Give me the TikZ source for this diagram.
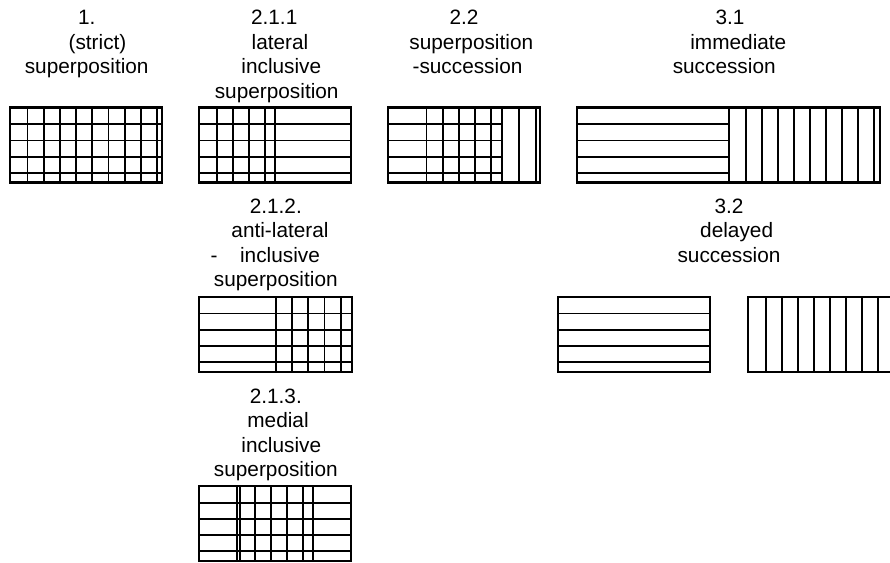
\documentclass[tikz,border=0pt]{standalone}
\usepackage{fontspec}
\setmainfont{Liberation Sans}

\begin{document}
\begin{tikzpicture}[x=.75pt,y=-.75pt,
  lbl/.style={anchor=north,inner sep=0pt,align=center,font=\fontsize{15.6}{18.4}\selectfont},
  rule/.style={line width=1.45pt},
  frame/.style={line width=1.6pt}]
\clip (0,0) rectangle (890,562);

% labels
\node[lbl] (lbl1) at (86.7,10.1) {1.\\ \hspace*{16.2pt}(strict)\\ superposition};
\node[lbl] (lbl211) at (276.7,10.1) {\hspace*{-3.75pt}2.1.1\\ \hspace*{5pt}lateral\\ \hspace*{6.9pt}inclusive\\ superposition};
\node[lbl] (lbl22) at (471.3,10.1) {\hspace*{-11pt}2.2\\ superposition\\ \hspace*{-5.7pt}-succession};
\node[lbl] (lbl31) at (728,10.1) {\hspace*{3pt}3.1\\ \hspace*{15.5pt}immediate\\ \hspace*{-5.7pt}succession};
\node[lbl] (lbl212) at (275.8,198.6) {2.1.2.\\ \hspace*{6.3pt}anti-lateral\\ \hspace*{-15.9pt}-\hspace*{17pt}inclusive\\ superposition};
\node[lbl] (lbl32) at (729,198.6) {3.2\\ \hspace*{11.5pt}delayed\\ succession};
\node[lbl] (lbl213) at (275.8,388.4) {2.1.3.\\ \hspace*{3.3pt}medial\\ \hspace*{8.2pt}inclusive\\ superposition};

% 1. strict superposition
\begin{scope}[shift={(10,107.5)}]
\foreach \y in {16.8,33,49.2,65.4} \draw[rule] (0,\y) -- (152,\y);
\foreach \k in {0,...,8} \draw[rule] (17.5+16.2*\k,0) -- (17.5+16.2*\k,75);
\draw[frame] (0,0) rectangle (152,75);
\end{scope}

% 2.1.1 lateral
\begin{scope}[shift={(199.3,107.5)}]
\foreach \y in {16.8,33,49.2,65.4} \draw[rule] (0,\y) -- (152,\y);
\foreach \k in {0,...,3} \draw[rule] (17.5+16.2*\k,0) -- (17.5+16.2*\k,75);
\draw[rule] (76,0) -- (76,75);
\draw[frame] (0,0) rectangle (152,75);
\end{scope}

% 2.2 superposition-succession
\begin{scope}[shift={(388.3,107.5)}]
\foreach \y in {16.8,33,49.2,65.4} \draw[rule] (0,\y) -- (114,\y);
\foreach \x in {38.2,54.4,70.6,86.8,103,114,130.7,147.3} \draw[rule] (\x,0) -- (\x,75);
\draw[frame] (0,0) rectangle (152,75);
\end{scope}

% 3.1 immediate succession
\begin{scope}[shift={(577.3,107.5)}]
\foreach \y in {16.8,33,49.2,65.4} \draw[rule] (0,\y) -- (152,\y);
\draw[rule] (152,0) -- (152,75);
\foreach \k in {0,...,8} \draw[rule] (168.5+16.025*\k,0) -- (168.5+16.025*\k,75);
\draw[frame] (0,0) rectangle (302.7,75);
\end{scope}

% 2.1.2 anti-lateral
\begin{scope}[shift={(199.3,296.7)}]
\foreach \y in {16.8,33,49.2,65.4} \draw[rule] (0,\y) -- (152.4,\y);
\draw[rule] (76.7,0) -- (76.7,75);
\foreach \k in {0,...,3} \draw[rule] (92.7+16.25*\k,0) -- (92.7+16.25*\k,75);
\draw[frame] (0,0) rectangle (152.4,75);
\end{scope}

% 3.2 delayed succession
\begin{scope}[shift={(558.3,296.7)}]
\foreach \y in {16.8,33,49.2,65.4} \draw[rule] (0,\y) -- (151.7,\y);
\draw[frame] (0,0) rectangle (151.7,75);
\end{scope}
\begin{scope}[shift={(748.3,296.7)}]
\foreach \k in {0,...,8} \draw[rule] (17.5+16*\k,0) -- (17.5+16*\k,75);
\draw[frame] (0,0) rectangle (152,75);
\end{scope}

% 2.1.3 medial
\begin{scope}[shift={(199.3,486)}]
\foreach \y in {16.8,33,49.2,65.4} \draw[rule] (0,\y) -- (151.7,\y);
\foreach \x in {37.7,40.4,56,72,88,104,113.4} \draw[rule] (\x,0) -- (\x,75);
\draw[frame] (0,0) rectangle (151.7,75);
\end{scope}
\end{tikzpicture}
\end{document}
